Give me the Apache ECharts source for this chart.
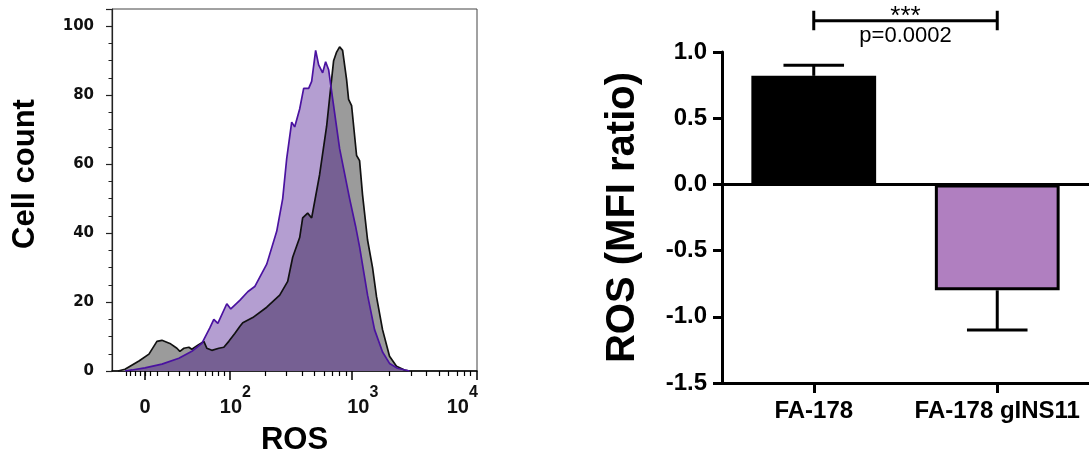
<!DOCTYPE html>
<html><head><meta charset="utf-8">
<script src="https://cdn.jsdelivr.net/npm/echarts@6/dist/echarts.min.js"></script>
<style>html,body{margin:0;padding:0;background:#fff}#c{width:1089px;height:461px}</style>
</head><body><div id="c"></div>
<script>
// ---- Left panel: ROS flow histogram (x in display decades of a biexponential scale) ----
const controlChannel = [1.128,1.184,1.296,1.376,1.44,1.48,1.544,1.60,1.624,1.656,1.696,1.72,1.768,1.816,1.84,1.88,1.936,1.976,2.016,2.064,2.104,2.128,2.208,2.32,2.424,2.488,2.528,2.584,2.608,2.648,2.68,2.744,2.80,2.832,2.856,2.88,2.904,2.928,2.96,2.976,3.0,3.04,3.064,3.088,3.128,3.168,3.2,3.248,3.304,3.36,3.424,3.464];
const controlCount   = [0,0.5,2.9,4.9,8.6,8.9,8.0,6.6,5.7,6.6,6.9,6.3,7.5,8.6,6.6,6.0,6.6,6.9,8.6,10.9,12.9,14,15.5,18.5,22,26,33,38.7,44.4,45.8,44.4,57,71,82,90,92.5,94,93,84.5,78.8,77,62.5,61,51,38,30,21.5,12,4.3,1.4,0.3,0];
const ginsChannel = [1.184,1.24,1.344,1.48,1.616,1.72,1.80,1.864,1.896,1.928,2.0,2.032,2.104,2.168,2.224,2.32,2.40,2.448,2.48,2.52,2.544,2.584,2.616,2.656,2.68,2.712,2.736,2.768,2.792,2.816,2.848,2.904,2.984,3.032,3.064,3.128,3.184,3.248,3.304,3.368,3.464];
const ginsCount   = [0,0.3,0.9,2,3.7,5.7,8,12.5,15,13.8,19.5,18,20.5,23,24.5,31,40.5,50,61.6,72.2,70.8,76,82,82,84,93,88.8,86.5,89.7,87.4,79,64.5,50,42,36,22,12,5.5,2.2,0.8,0];
const rosTickValues = [0, 100, 1000, 10000];
const rosTickBase   = ['0', '10', '10', '10'];
const rosTickExp    = ['', '2', '3', '4'];
const rosMinorValues = [-16,-12,-8,-4,0,4,10,20,30,40,50,60,70,80,90,200,300,400,500,600,700,800,900,2000,3000,4000,5000,6000,7000,8000,9000];
const countMax = 105;
const countInterval = 20;

// ---- Right panel: ROS MFI ratio bar chart ----
const groups  = ['FA-178', 'FA-178 gINS11'];
const mfiMean = [0.82, -0.80];
const mfiSem  = [0.08, 0.30];
const sigStars = '***';
const sigP = 'p=0.0002';
const bracketLevel = 1.236;

// biexponential display transform (decades)
const BIEX_C = 22.1;
function biex(v){ return Math.log10(BIEX_C) + Math.asinh(v/(2*BIEX_C))/Math.LN10; }

const majorPos = rosTickValues.map(biex);
const minorPos = rosMinorValues.map(biex);
// label spacer widths (layout only) so labels sit like the original
const spLeft  = [0, 14, 24, 0];
const spRight = [0, 0, 0, 30];

function rosLabel(val){
  let i = 0, best = Infinity;
  majorPos.forEach((p, k) => { const d = Math.abs(p - val); if (d < best){ best = d; i = k; } });
  let s = '';
  s += spLeft[i] ? '{l' + i + '| }' : '{e| }';
  s += '{b|' + rosTickBase[i] + '}';
  if (rosTickExp[i]) s += '{s|' + rosTickExp[i] + '}';
  s += spRight[i] ? '{r' + i + '| }' : '{e| }';
  return s;
}
const FONT = '"Liberation Sans", Arial, sans-serif';
const rich = {
  e: {lineHeight: 32, fontSize: 6},
  b: {fontSize: 20, fontWeight: 'bold', fontFamily: FONT, color: '#111', lineHeight: 22, verticalAlign: 'bottom'},
  s: {fontSize: 16, fontWeight: 'bold', fontFamily: FONT, color: '#111', lineHeight: 17, verticalAlign: 'top'}
};
spLeft.forEach((w, i) => { if (w) rich['l' + i] = {width: w, lineHeight: 32, fontSize: 6}; });
spRight.forEach((w, i) => { if (w) rich['r' + i] = {width: w, lineHeight: 32, fontSize: 6}; });

const zip = (a, b) => a.map((x, i) => [x, b[i]]);

const chart = echarts.init(document.getElementById('c'), null, {renderer: 'canvas'});
const option = {
  animation: false,
  backgroundColor: '#fff',
  grid: [
    {left: 112, top: 9, width: 365, height: 366, show: true, borderColor: '#444', borderWidth: 1, backgroundColor: 'transparent', containLabel: false},
    {left: 722, top: 52, width: 370, height: 331, containLabel: false}
  ],
  xAxis: [
    {gridIndex: 0, type: 'value', min: 1.08, max: 4.005, position: 'bottom',
     axisLine: {show: true, onZero: false, lineStyle: {color: '#000', width: 1.5}},
     axisTick: {show: true, customValues: majorPos, length: 9, lineStyle: {color: '#000', width: 1.5}},
     axisLabel: {customValues: majorPos, formatter: rosLabel, rich: rich, margin: 14, align: 'center',
                 fontSize: 20, fontWeight: 'bold', fontFamily: FONT, color: '#111'},
     splitLine: {show: false},
     name: 'ROS', nameLocation: 'middle', nameGap: 54,
     nameTextStyle: {fontSize: 31, fontWeight: 'bold', fontFamily: FONT, color: '#000'}},
    {gridIndex: 0, type: 'value', min: 1.08, max: 4.005, position: 'bottom',
     axisLine: {show: false},
     axisTick: {show: true, customValues: minorPos, length: 5, lineStyle: {color: '#000', width: 1.2}},
     axisLabel: {show: false}, splitLine: {show: false}},
    {gridIndex: 1, type: 'category', data: groups, position: 'bottom',
     axisLine: {show: true, onZero: false, lineStyle: {color: '#000', width: 3}},
     axisTick: {show: true, alignWithLabel: true, length: 10, lineStyle: {color: '#000', width: 3}},
     axisLabel: {interval: 0, hideOverlap: false, fontSize: 24, fontWeight: 'bold', fontFamily: FONT, color: '#000', margin: 16},
     splitLine: {show: false}}
  ],
  yAxis: [
    {gridIndex: 0, type: 'value', min: 0, max: countMax, interval: countInterval,
     axisLine: {show: true, lineStyle: {color: '#222', width: 1.2}},
     axisTick: {show: true, length: 6, lineStyle: {color: '#222', width: 1.2}},
     minorTick: {show: true, splitNumber: 4, length: 3.5, lineStyle: {color: '#222', width: 1}},
     axisLabel: {showMaxLabel: false, fontSize: 15, fontWeight: 'bold', fontFamily: '"DejaVu Sans", sans-serif', color: '#111', margin: 18},
     splitLine: {show: false},
     name: 'Cell count', nameLocation: 'middle', nameGap: 71,
     nameTextStyle: {fontSize: 31, fontWeight: 'bold', fontFamily: FONT, color: '#000', padding: [0, 0, 0, 32]}},
    {gridIndex: 1, type: 'value', min: -1.5, max: 1.0, interval: 0.5,
     axisLine: {show: true, onZero: false, lineStyle: {color: '#000', width: 3}},
     axisTick: {show: true, length: 9, lineStyle: {color: '#000', width: 3}},
     axisLabel: {formatter: v => v.toFixed(1), fontSize: 24, fontWeight: 'bold', fontFamily: FONT, color: '#000', margin: 15},
     splitLine: {show: false},
     name: 'ROS (MFI ratio)', nameLocation: 'middle', nameGap: 79,
     nameTextStyle: {fontSize: 40, fontWeight: 'bold', fontFamily: FONT, color: '#000'}}
  ],
  series: [
    {type: 'line', xAxisIndex: 0, yAxisIndex: 0, data: zip(controlChannel, controlCount), showSymbol: false, symbol: 'none',
     lineStyle: {opacity: 0}, areaStyle: {color: '#9b9b9b', opacity: 1}, z: 1},
    {type: 'line', xAxisIndex: 0, yAxisIndex: 0, data: zip(ginsChannel, ginsCount), showSymbol: false, symbol: 'none',
     lineStyle: {opacity: 0}, areaStyle: {color: 'rgba(58,0,135,0.38)', opacity: 1}, z: 2},
    {type: 'line', xAxisIndex: 0, yAxisIndex: 0, data: zip(controlChannel, controlCount), showSymbol: false, symbol: 'none',
     lineStyle: {color: '#111', width: 1.7}, z: 3},
    {type: 'line', xAxisIndex: 0, yAxisIndex: 0, data: zip(ginsChannel, ginsCount), showSymbol: false, symbol: 'none',
     lineStyle: {color: '#4a12a0', width: 1.7}, z: 4},
    {type: 'bar', xAxisIndex: 2, yAxisIndex: 1, barWidth: '68%',
     data: mfiMean.map((v, i) => ({value: v, itemStyle: {color: i === 0 ? '#000000' : '#b07fc0', borderColor: '#000', borderWidth: 3}})),
     markLine: {silent: true, symbol: ['none', 'none'], label: {show: false},
                lineStyle: {color: '#000', width: 3, type: 'solid'}, data: [{yAxis: 0}]},
     z: 2},
    {type: 'custom', xAxisIndex: 2, yAxisIndex: 1, z: 3, clip: false,
     data: mfiMean.map((m, i) => [i, m, m + Math.sign(m) * mfiSem[i]]),
     renderItem: function (params, api) {
       const x = api.value(0), m = api.value(1), e = api.value(2);
       const p0 = api.coord([x, m]), p1 = api.coord([x, e]);
       const cw = api.size([1, 0])[0] * 0.33;
       return {type: 'group', children: [
         {type: 'line', shape: {x1: p0[0], y1: p0[1], x2: p1[0], y2: p1[1]}, style: {stroke: '#000', lineWidth: 3}},
         {type: 'line', shape: {x1: p1[0] - cw / 2, y1: p1[1], x2: p1[0] + cw / 2, y2: p1[1]}, style: {stroke: '#000', lineWidth: 3}}
       ]};
     }},
    {type: 'custom', xAxisIndex: 2, yAxisIndex: 1, z: 4, clip: false,
     data: [[0, 1, bracketLevel]],
     renderItem: function (params, api) {
       const a = api.coord([api.value(0), api.value(2)]);
       const b = api.coord([api.value(1), api.value(2)]);
       const mid = (a[0] + b[0]) / 2;
       return {type: 'group', children: [
         {type: 'line', shape: {x1: a[0], y1: a[1], x2: b[0], y2: b[1]}, style: {stroke: '#000', lineWidth: 3}},
         {type: 'line', shape: {x1: a[0], y1: a[1] - 10, x2: a[0], y2: a[1] + 9.5}, style: {stroke: '#000', lineWidth: 3}},
         {type: 'line', shape: {x1: b[0], y1: b[1] - 10, x2: b[0], y2: b[1] + 9.5}, style: {stroke: '#000', lineWidth: 3}},
         {type: 'text', x: mid, y: a[1] - 4, style: {text: sigStars, fill: '#000', font: '26px "Liberation Sans"', align: 'center', verticalAlign: 'middle'}},
         {type: 'text', x: mid, y: a[1] + 14.7, style: {text: sigP, fill: '#000', font: '22px "Liberation Sans"', align: 'center', verticalAlign: 'middle'}}
       ]};
     }}
  ]
};
chart.setOption(option);
</script></body></html>
